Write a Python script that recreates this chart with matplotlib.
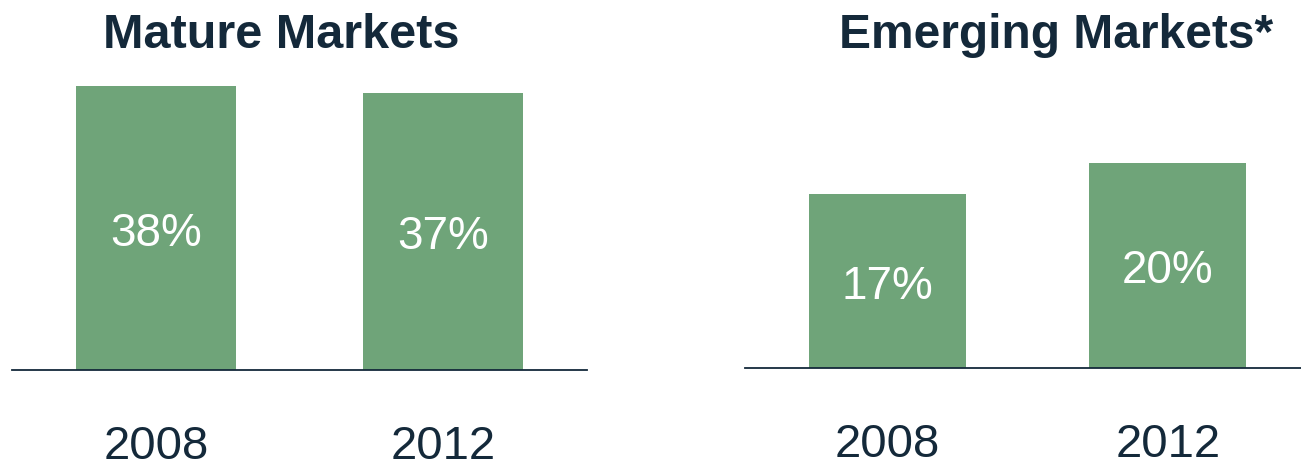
import matplotlib
matplotlib.use("Agg")
import matplotlib.pyplot as plt

plt.rcParams['font.family'] = ['Liberation Sans', 'DejaVu Sans']

years = ["2008", "2012"]
mature_values = [38, 37]
emerging_values = [17, 20]
titles = ["Mature Markets", "Emerging Markets*"]

BAR = "#6fa479"
DARK = "#14293a"

W, H = 1301, 464
fig = plt.figure(figsize=(W / 100, H / 100), dpi=100)


def px_axes(x0, x1, ybase, ytop):
    return fig.add_axes([x0 / W, (H - ybase) / H, (x1 - x0) / W, (ybase - ytop) / H])


def draw(ax, values, xlim, ytop_val, width):
    xs = list(range(len(values)))
    bars = ax.bar(xs, values, width=width, color=BAR, zorder=2)
    for b, v in zip(bars, values):
        ax.annotate(f"{v}%", (b.get_x() + b.get_width() / 2, v / 2),
                    xytext=(0, -12), textcoords="offset points",
                    ha="center", va="baseline", color="white", fontsize=33, zorder=3)
    ax.set_xlim(*xlim)
    ax.set_ylim(0, ytop_val)
    for s in ["top", "left", "right"]:
        ax.spines[s].set_visible(False)
    ax.spines["bottom"].set_color(DARK)
    ax.spines["bottom"].set_linewidth(1.3)
    ax.set_yticks([])
    ax.set_xticks(xs)
    ax.set_xticklabels(years)
    ax.tick_params(axis="x", length=0, pad=39, labelsize=34, labelcolor=DARK)
    ax.patch.set_alpha(0)


ax1 = px_axes(12, 587, 371, 60)
draw(ax1, mature_values, (-0.5, 1.5), 311 / 7.48, 0.557)

ax2 = px_axes(745, 1301, 369, 60)
draw(ax2, emerging_values, (-0.508, 1.475), 309 / 10.25, 0.56)

fig.text(281 / W, (H - 48) / H, titles[0], ha="center", va="baseline",
         fontsize=35, fontweight="bold", color=DARK)
fig.text(1056 / W, (H - 48) / H, titles[1], ha="center", va="baseline",
         fontsize=34.5, fontweight="bold", color=DARK)

fig.savefig("out.png", dpi=100)
